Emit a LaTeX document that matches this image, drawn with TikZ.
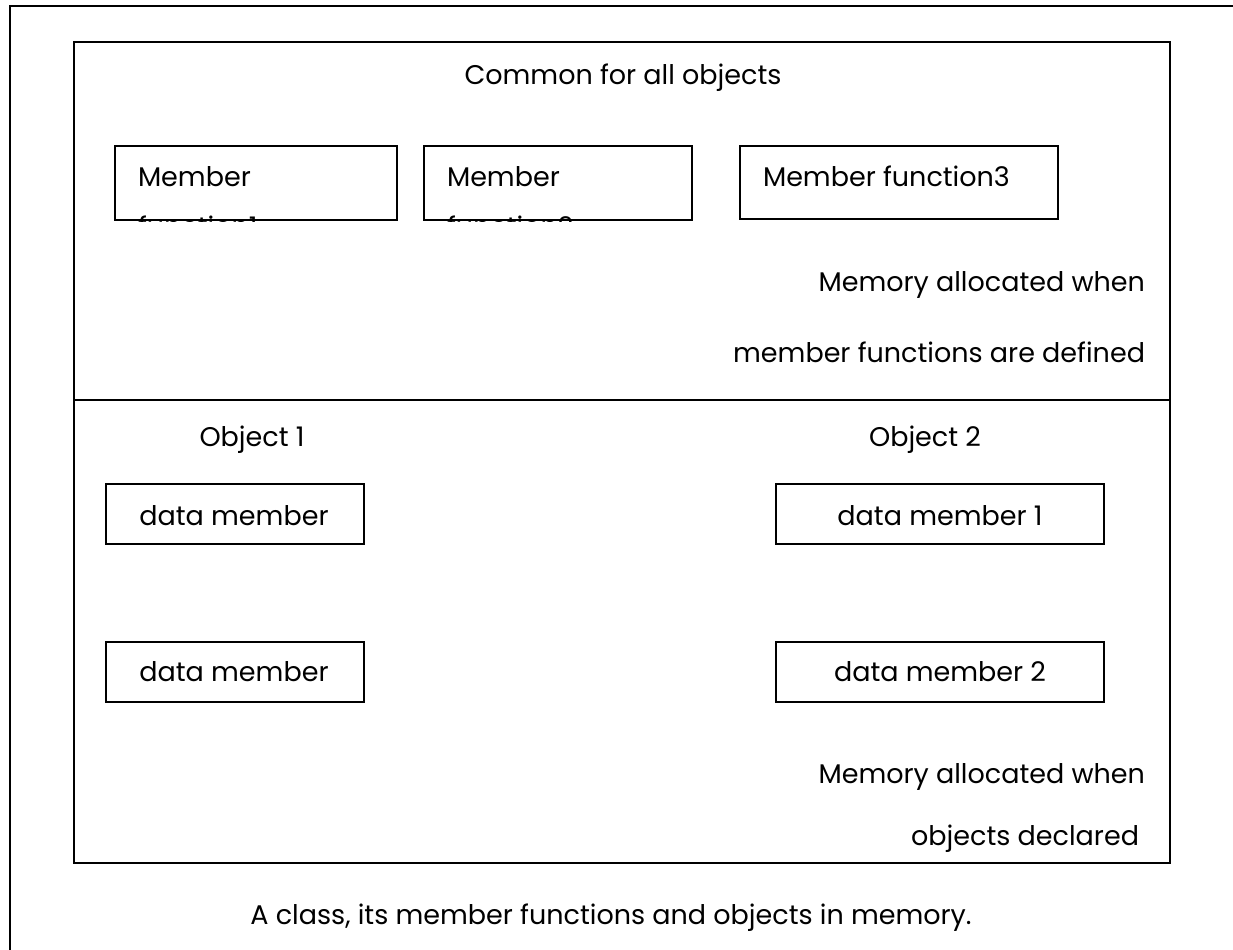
\documentclass[tikz,border=0pt]{standalone}
\usepackage{fontspec}
\setmainfont{Poppins}
\newlength{\du}
\setlength{\du}{0.5pt}

\begin{document}
\begin{tikzpicture}[
  membox/.style={draw=dialinecolor, line width=1pt, inner sep=0pt, fill=white},
  lbl/.style={inner sep=0pt, text=dialinecolor, font=\fontsize{13.5pt}{20pt}\selectfont}]
\pgftransformxscale{1.000000}
\pgftransformyscale{-1.000000}
\definecolor{dialinecolor}{rgb}{0.000000, 0.000000, 0.000000}
\clip (0.000000\du,0.000000\du) rectangle (1233.000000\du,949.000000\du);
\pgfsetlinewidth{1pt}
\pgfsetmiterjoin
% outer frame, right and bottom side fall outside the page
\draw (10.000000\du,6.000000\du) rectangle (1260.000000\du,990.000000\du);
% class area
\coordinate (divl) at (74.000000\du,400.000000\du);
\coordinate (divr) at (1170.000000\du,400.000000\du);
\draw (74.000000\du,42.000000\du) rectangle (1170.000000\du,863.000000\du);
\draw (divl)--(divr);
\node[lbl, anchor=base] (common) at (623.000000\du,84.000000\du){Common for all objects};
% member functions
\node[membox, minimum width=282\du, minimum height=74\du] (fun1) at (256.000000\du,183.000000\du){};
\node[membox, minimum width=268\du, minimum height=74\du] (fun2) at (558.000000\du,183.000000\du){};
\node[membox, minimum width=318\du, minimum height=73\du] (fun3) at (899.000000\du,182.500000\du){};
\node[lbl, anchor=base west] (fun1a) at (137.000000\du,186.000000\du){Member};
\node[lbl, anchor=base west] (fun2a) at (446.000000\du,186.000000\du){Member};
\begin{scope}
\clip (fun1.south west) rectangle (fun1.north east);
\node[lbl, anchor=base west] (fun1b) at (137.000000\du,236.000000\du){function1};
\end{scope}
\begin{scope}
\clip (fun2.south west) rectangle (fun2.north east);
\node[lbl, anchor=base west] (fun2b) at (446.000000\du,236.000000\du){function2};
\end{scope}
\node[lbl, anchor=base west] (fun3a) at (762.000000\du,186.000000\du){Member function3};
\node[lbl, anchor=base east] (memfa) at (1146.000000\du,291.000000\du){Memory allocated when};
\node[lbl, anchor=base east] (memfb) at (1146.000000\du,362.000000\du){member functions are defined};
% objects
\node[lbl, anchor=base] (obj1) at (252.000000\du,446.000000\du){Object 1};
\node[lbl, anchor=base] (obj2) at (925.000000\du,446.000000\du){Object 2};
\node[membox, minimum width=258\du, minimum height=60\du] (dma1) at (235.000000\du,514.000000\du){};
\node[membox, minimum width=258\du, minimum height=60\du] (dma2) at (235.000000\du,672.000000\du){};
\node[membox, minimum width=328\du, minimum height=60\du] (dmb1) at (940.000000\du,514.000000\du){};
\node[membox, minimum width=328\du, minimum height=60\du] (dmb2) at (940.000000\du,672.000000\du){};
\node[lbl, anchor=base] at (234.000000\du,525.000000\du){data member};
\node[lbl, anchor=base] at (234.000000\du,681.000000\du){data member};
\node[lbl, anchor=base] at (940.000000\du,525.000000\du){data member 1};
\node[lbl, anchor=base] at (940.000000\du,681.000000\du){data member 2};
\node[lbl, anchor=base east] (memoa) at (1146.000000\du,783.000000\du){Memory allocated when};
\node[lbl, anchor=base east] (memob) at (1140.000000\du,845.000000\du){objects declared};
% caption
\node[lbl, anchor=base] (caption) at (611.000000\du,924.000000\du){A class, its member functions and objects in memory.};
\end{tikzpicture}
\end{document}
